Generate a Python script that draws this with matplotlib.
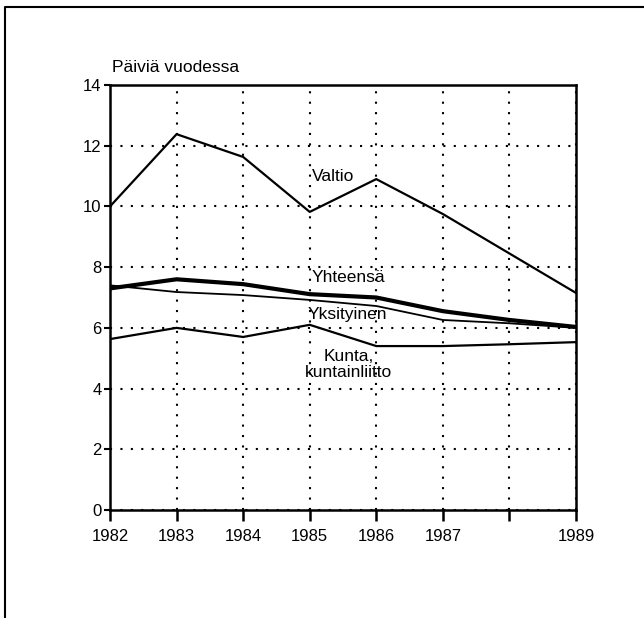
import matplotlib.pyplot as plt
from matplotlib.lines import Line2D

plt.rcParams['font.family'] = ['Liberation Sans', 'DejaVu Sans']

# Data
years = [1982, 1983, 1984, 1985, 1986, 1987, 1988, 1989]
year_labels = ['1982', '1983', '1984', '1985', '1986', '1987', '', '1989']
valtio = [10.0, 12.38, 11.63, 9.82, 10.9, 9.75, 8.45, 7.15]
yhteensa = [7.3, 7.6, 7.44, 7.11, 7.0, 6.55, 6.26, 6.03]
yksityinen = [7.4, 7.18, 7.08, 6.92, 6.72, 6.26, 6.15, 6.0]
kunta = [5.63, 6.0, 5.7, 6.1, 5.4, 5.4, 5.46, 5.53]
y_ticks = [0, 2, 4, 6, 8, 10, 12, 14]

fig = plt.figure(figsize=(6.44, 6.18), dpi=100)
ax = fig.add_axes([110 / 644, 1 - 510 / 618, 466 / 644, 425 / 618])

# Lines
ax.plot(years, valtio, color='black', lw=1.6)
ax.plot(years, yksityinen, color='black', lw=1.3)
ax.plot(years, kunta, color='black', lw=1.6)
ax.plot(years, yhteensa, color='black', lw=3.0)

# Axes setup
ax.set_xlim(1982, 1989)
ax.set_ylim(0, 14)
ax.set_xticks(years)
ax.set_xticklabels(year_labels)
ax.set_yticks(y_ticks)
ax.tick_params(axis='x', direction='out', length=8, width=1.8, pad=6, labelsize=12)
ax.tick_params(axis='y', direction='out', length=4, width=1.5, pad=2, labelsize=12)
for s in ax.spines.values():
    s.set_linewidth(1.8)
ax.grid(True, color='black', linestyle=(0, (1, 4)), linewidth=1.5)

# Labels on the lines
ax.text(1985.03, 10.97, 'Valtio', fontsize=12.5, ha='left', va='center')
ax.text(1985.03, 7.67, 'Yhteensä', fontsize=12.5, ha='left', va='center')
ax.text(1985.56, 6.45, 'Yksityinen', fontsize=12.5, ha='center', va='center')
ax.text(1985.58, 4.78, 'Kunta,\nkuntainliitto', fontsize=12.5, ha='center',
        va='center', linespacing=1.1)

fig.text(112 / 644, 1 - 68 / 618, 'Päiviä vuodessa', fontsize=12.5,
         ha='left', va='center')

# Page frame (cropped on right and bottom)
fig.add_artist(Line2D([5 / 644, 5 / 644, 1.0], [0.0, 1 - 7 / 618, 1 - 7 / 618],
                      transform=fig.transFigure, color='black', lw=1.5))

fig.savefig('out.png', dpi=100)
